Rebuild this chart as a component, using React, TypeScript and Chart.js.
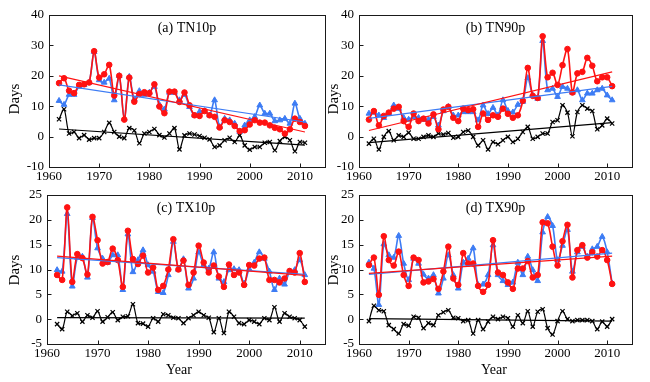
import React, { useEffect, useRef } from 'react';
import { Chart, registerables } from 'chart.js';

Chart.register(...registerables);

// ---------- data ----------
const years = [
  1962, 1963, 1964, 1965, 1966, 1967, 1968, 1969, 1970, 1971,
  1972, 1973, 1974, 1975, 1976, 1977, 1978, 1979, 1980, 1981,
  1982, 1983, 1984, 1985, 1986, 1987, 1988, 1989, 1990, 1991,
  1992, 1993, 1994, 1995, 1996, 1997, 1998, 1999, 2000, 2001,
  2002, 2003, 2004, 2005, 2006, 2007, 2008, 2009, 2010, 2011,
];
const trendYears = [1962, 2011];
const xTickMin = 1960;
const xTickMax = 2015;

// (a) TN10p
const tn10pRed = [
  17.6, 19.2, 15.1, 14.3, 17.0, 17.2, 17.8, 28.1, 19.4, 20.5,
  23.6, 13.5, 20.0, 5.6, 19.4, 11.5, 14.0, 14.6, 14.3, 17.2,
  9.9, 7.7, 14.8, 14.8, 11.4, 14.5, 10.3, 7.0, 6.8, 8.4,
  7.0, 6.5, 3.0, 5.4, 4.8, 3.5, 1.8, 2.1, 4.0, 5.4,
  4.6, 4.6, 3.7, 2.9, 2.4, 1.0, 2.4, 5.9, 4.8, 3.5,
];
const tn10pBlue = [
  11.8, 10.5, 13.8, 13.8, 16.5, 17.0, 17.8, 27.9, 18.6, 17.8,
  19.1, 12.0, 20.0, 5.9, 19.7, 12.3, 15.0, 13.8, 14.5, 16.4,
  10.5, 9.0, 14.5, 14.5, 12.0, 13.8, 9.8, 7.0, 8.2, 8.4,
  7.0, 12.0, 3.2, 5.9, 5.4, 4.3, 1.6, 3.7, 5.4, 6.5,
  10.3, 7.6, 7.6, 5.1, 5.4, 5.9, 4.3, 10.9, 5.9, 4.3,
];
const tn10pBlack = [
  5.7, 9.0, 1.0, 1.5, -0.5, 0.5, -1.0, -0.5, -0.5, 1.5,
  4.5, 1.5, 0.0, -0.5, 2.8, 2.0, -2.2, 1.0, 1.5, 2.5,
  0.5, -0.3, 1.0, 2.8, -4.2, 0.4, 1.0, 0.7, 0.2, -0.4,
  -0.9, -3.4, -2.9, -1.2, -0.4, -1.8, 0.4, -2.9, -4.3, -3.4,
  -3.4, -2.0, -1.8, -4.5, -1.5, -0.1, -1.2, -4.8, -1.8, -2.0,
];
const tn10pRedTrend = [20.0, 1.5];
const tn10pBlueTrend = [17.0, 4.8];
const tn10pBlackTrend = [2.5, -2.8];

// (b) TN90p
const tn90pRed = [
  5.6, 8.4, 3.7, 6.8, 7.9, 9.2, 9.8, 5.1, 3.2, 7.6,
  5.1, 5.9, 4.3, 7.3, 2.4, 8.9, 9.8, 6.2, 5.1, 9.2,
  8.7, 9.0, 3.2, 7.6, 5.5, 7.0, 6.5, 9.2, 7.5, 6.2,
  7.0, 11.8, 22.6, 13.4, 12.7, 33.0, 19.5, 21.0, 17.0, 23.5,
  28.8, 14.5, 20.8, 21.3, 25.9, 23.3, 18.2, 19.5, 19.5, 16.6,
];
const tn90pBlue = [
  7.6, 7.9, 7.0, 6.2, 7.6, 10.3, 9.2, 6.2, 5.6, 6.5,
  6.2, 5.6, 5.6, 6.5, 3.7, 8.4, 9.8, 7.0, 7.0, 8.1,
  8.1, 8.1, 5.4, 10.3, 7.5, 9.5, 7.0, 12.0, 8.5, 8.0,
  10.5, 11.5, 19.3, 13.6, 12.5, 31.5, 15.3, 15.8, 13.1, 16.4,
  15.8, 14.5, 15.3, 12.0, 14.2, 14.2, 15.3, 15.8, 13.6, 12.0,
];
const tn90pBlack = [
  -2.3, -0.7, -4.2, -0.1, 1.8, -1.2, 0.4, -0.1, 1.3, -0.7,
  -0.7, -0.1, 0.4, -0.1, 1.0, 0.7, 1.2, -0.4, -0.1, 1.5,
  2.0, -0.1, -2.9, -1.2, -4.2, -1.8, -2.5, -1.2, -0.1, -1.8,
  -0.7, 1.5, 3.2, -0.7, -0.1, 1.0, 1.0, 4.8, 5.4, 10.3,
  7.9, 0.1, 8.1, 10.3, 9.2, 8.4, 2.4, 3.7, 5.9, 4.3,
];
const tn90pRedTrend = [2.0, 21.3];
const tn90pBlueTrend = [6.0, 16.5];
const tn90pBlackTrend = [-2.0, 4.6];

// (c) TX10p
const tx10pRed = [
  8.9, 7.9, 22.5, 7.5, 13.1, 12.3, 9.0, 20.6, 15.9, 11.2,
  11.5, 14.2, 11.9, 6.5, 17.8, 12.1, 11.1, 12.8, 9.4, 10.4,
  5.9, 6.7, 10.0, 16.1, 10.0, 11.8, 6.9, 9.4, 14.8, 11.4,
  9.4, 10.8, 8.6, 6.5, 11.0, 8.9, 9.4, 6.9, 10.9, 10.8,
  12.2, 12.4, 7.9, 7.9, 7.4, 8.2, 9.7, 9.4, 13.3, 7.5,
];
const tx10pBlue = [
  9.9, 9.6, 21.2, 6.6, 12.4, 12.6, 8.4, 20.4, 14.3, 12.2,
  11.4, 12.9, 12.9, 5.9, 17.1, 9.5, 11.9, 13.9, 10.9, 9.6,
  5.5, 5.3, 8.9, 15.6, 10.0, 12.1, 6.2, 8.2, 13.5, 10.9,
  10.2, 13.5, 8.2, 7.5, 9.9, 10.1, 9.9, 7.2, 10.1, 11.4,
  13.5, 12.2, 9.6, 5.9, 8.2, 7.0, 9.6, 9.9, 11.9, 8.9,
];
const tx10pBlack = [
  -1.0, -2.0, 1.5, 0.7, 1.2, -0.5, 0.8, 0.3, 1.6, -0.5,
  0.4, 1.4, -0.2, 0.5, 0.6, 3.0, -0.8, -0.9, -1.5, 0.2,
  -0.5, 1.0, 0.8, 0.3, 0.2, -0.8, 0.2, 0.8, 1.5, 0.8,
  0.3, -2.6, 0.2, -2.8, 1.5, 0.5, -0.8, -1.0, -0.2, -0.5,
  -1.0, 0.2, -0.2, 2.4, -0.5, 1.2, 0.5, 0.2, -0.2, -1.5,
];
const tx10pRedTrend = [12.7, 8.8];
const tx10pBlueTrend = [12.4, 9.0];
const tx10pBlackTrend = [0.3, 0.2];

// (d) TX90p
const tx90pRed = [
  10.9, 12.4, 4.9, 16.7, 11.9, 10.8, 13.6, 8.9, 6.7, 12.4,
  11.9, 7.4, 7.6, 8.1, 6.1, 9.6, 14.6, 8.2, 6.9, 13.3,
  11.2, 11.2, 6.7, 5.5, 6.9, 15.9, 9.4, 8.9, 7.4, 6.1,
  10.2, 10.2, 11.7, 8.4, 8.9, 19.5, 19.3, 14.6, 10.8, 15.7,
  19.0, 8.4, 13.9, 14.9, 12.4, 13.5, 12.6, 13.9, 11.9, 7.1,
];
const tx90pBlue = [
  11.4, 10.2, 2.9, 15.1, 12.9, 12.4, 16.8, 11.2, 7.9, 12.2,
  11.2, 9.0, 8.2, 8.9, 5.2, 8.2, 12.9, 8.9, 6.2, 11.4,
  12.2, 14.3, 6.9, 7.0, 8.9, 14.9, 8.9, 7.7, 6.9, 7.4,
  11.4, 8.9, 12.6, 9.9, 7.7, 17.5, 20.6, 18.8, 11.9, 14.8,
  18.0, 9.6, 13.5, 14.6, 12.6, 14.1, 14.6, 16.6, 13.5, 7.2,
];
const tx90pBlack = [
  -0.4, 2.7, 1.8, 1.6, -1.2, -2.0, -2.9, -1.0, -1.3, 0.5,
  0.3, -1.8, -0.8, -1.2, 0.8, 1.4, 1.8, 0.3, 0.2, -0.4,
  -0.2, -2.9, -0.2, -2.0, -0.5, 0.5, 0.0, 0.5, 0.2, -1.5,
  0.8, -0.8, 1.6, -1.5, 1.5, 2.0, -1.8, -3.1, -0.4, 1.6,
  0.0, -0.4, -0.2, -0.2, -0.2, -0.4, -2.0, -0.5, -1.5, 0.0,
];
const tx90pRedTrend = [9.2, 12.7];
const tx90pBlueTrend = [9.0, 13.3];
const tx90pBlackTrend = [0.1, -0.4];

// ---------- style ----------
const RED = '#ff1212';
const BLUE = '#3d7cf4';
const BLACK = '#000000';
const SERIF = '"Liberation Serif", "Times New Roman", serif';
const W = 650;
const H = 382;
const X_AXIS_H = 20;

type Panel = {
  label: string;
  red: number[];
  blue: number[];
  black: number[];
  redTrend: number[];
  blueTrend: number[];
  blackTrend: number[];
  yMin: number;
  yMax: number;
  yStep: number;
  area: { l: number; t: number; r: number; b: number };
  days: { x: number; y: number };
  year: { x: number; y: number } | null;
};

const panels: Panel[] = [
  {
    label: '(a) TN10p', red: tn10pRed, blue: tn10pBlue, black: tn10pBlack,
    redTrend: tn10pRedTrend, blueTrend: tn10pBlueTrend, blackTrend: tn10pBlackTrend,
    yMin: -10, yMax: 40, yStep: 10,
    area: { l: 49, t: 15, r: 325, b: 167 },
    days: { x: 15, y: 99 }, year: null,
  },
  {
    label: '(b) TN90p', red: tn90pRed, blue: tn90pBlue, black: tn90pBlack,
    redTrend: tn90pRedTrend, blueTrend: tn90pBlueTrend, blackTrend: tn90pBlackTrend,
    yMin: -10, yMax: 40, yStep: 10,
    area: { l: 359, t: 15, r: 632, b: 167 },
    days: { x: 334, y: 99 }, year: null,
  },
  {
    label: '(c) TX10p', red: tx10pRed, blue: tx10pBlue, black: tx10pBlack,
    redTrend: tx10pRedTrend, blueTrend: tx10pBlueTrend, blackTrend: tx10pBlackTrend,
    yMin: -5, yMax: 25, yStep: 5,
    area: { l: 47, t: 195, r: 325, b: 344 },
    days: { x: 15, y: 270 }, year: { x: 179, y: 370 },
  },
  {
    label: '(d) TX90p', red: tx90pRed, blue: tx90pBlue, black: tx90pBlack,
    redTrend: tx90pRedTrend, blueTrend: tx90pBlueTrend, blackTrend: tx90pBlackTrend,
    yMin: -5, yMax: 25, yStep: 5,
    area: { l: 359, t: 195, r: 632, b: 344 },
    days: { x: 334, y: 270 }, year: { x: 494, y: 370 },
  },
];

const framePlugin = {
  id: 'frame',
  afterDraw(chart: any, _args: any, opts: any) {
    const { ctx, chartArea, scales } = chart;
    const { left, top, right, bottom } = chartArea;
    ctx.save();
    ctx.strokeStyle = '#1a1a1a';
    ctx.lineWidth = 1;
    const l = Math.round(left) + 0.5;
    const t = Math.round(top) + 0.5;
    const r = Math.round(right) + 0.5;
    const b = Math.round(bottom) + 0.5;
    ctx.strokeRect(l, t, r - l, b - t);
    ctx.beginPath();
    scales.x.ticks.forEach((tk: any) => {
      const px = Math.round(scales.x.getPixelForValue(tk.value)) + 0.5;
      ctx.moveTo(px, b);
      ctx.lineTo(px, b - 4);
    });
    scales.y.ticks.forEach((tk: any) => {
      const py = Math.round(scales.y.getPixelForValue(tk.value)) + 0.5;
      ctx.moveTo(l, py);
      ctx.lineTo(l + 4, py);
    });
    ctx.stroke();

    ctx.fillStyle = '#000';
    ctx.textAlign = 'center';
    ctx.textBaseline = 'middle';
    ctx.font = `14px ${SERIF}`;
    ctx.fillText(opts.label, (left + right) / 2, top + 13);

    ctx.save();
    ctx.translate(opts.days.x, opts.days.y);
    ctx.rotate(-Math.PI / 2);
    ctx.font = `15px ${SERIF}`;
    ctx.fillText('Days', 0, 0);
    ctx.restore();

    if (opts.year) {
      ctx.font = `14px ${SERIF}`;
      ctx.fillText('Year', opts.year.x, opts.year.y);
    }
    ctx.restore();
  },
};

function pts(xs: number[], ys: number[]) {
  return xs.map((x, i) => ({ x, y: ys[i] }));
}

function buildConfig(p: Panel): any {
  const padLeft = 0;
  const yWidth = p.area.l - padLeft;
  const trend = (data: number[], color: string) => ({
    data: pts(trendYears, data),
    borderColor: color,
    borderWidth: 1.2,
    pointRadius: 0,
    tension: 0,
    fill: false,
  });
  return {
    type: 'line',
    data: {
      datasets: [
        trend(p.redTrend, RED),
        trend(p.blueTrend, BLUE),
        trend(p.blackTrend, BLACK),
        {
          data: pts(years, p.red),
          borderColor: RED,
          backgroundColor: RED,
          borderWidth: 1.6,
          pointStyle: 'circle',
          pointRadius: 2.8,
          pointBorderWidth: 1,
          tension: 0.3,
          fill: false,
        },
        {
          data: pts(years, p.blue),
          borderColor: BLUE,
          backgroundColor: BLUE,
          borderWidth: 1.6,
          pointStyle: 'triangle',
          pointRadius: 3.3,
          pointBorderWidth: 1,
          tension: 0.3,
          fill: false,
        },
        {
          data: pts(years, p.black),
          borderColor: BLACK,
          backgroundColor: BLACK,
          borderWidth: 1.2,
          pointStyle: 'crossRot',
          pointRadius: 3,
          pointBorderWidth: 1.2,
          tension: 0.3,
          fill: false,
        },
      ],
    },
    options: {
      responsive: false,
      animation: false,
      devicePixelRatio: 1,
      events: [],
      layout: {
        padding: {
          left: padLeft,
          top: p.area.t,
          right: W - p.area.r,
          bottom: H - p.area.b - X_AXIS_H,
        },
      },
      plugins: {
        legend: { display: false },
        tooltip: { enabled: false },
        title: { display: false },
        frame: { label: p.label, days: p.days, year: p.year },
      },
      scales: {
        x: {
          type: 'linear',
          min: xTickMin,
          max: xTickMax,
          afterFit: (s: any) => { s.height = X_AXIS_H; },
          grid: { display: false, drawTicks: false },
          border: { display: false },
          ticks: {
            stepSize: 10,
            includeBounds: false,
            autoSkip: false,
            maxRotation: 0,
            padding: 2,
            color: '#000',
            font: { family: SERIF, size: 13, lineHeight: 1.2 },
            callback: (v: any) => String(v),
          },
        },
        y: {
          type: 'linear',
          min: p.yMin,
          max: p.yMax,
          afterFit: (s: any) => { s.width = yWidth; },
          grid: { display: false, drawTicks: false },
          border: { display: false },
          ticks: {
            stepSize: p.yStep,
            padding: 5,
            color: '#000',
            font: { family: SERIF, size: 13 },
            callback: (v: any) => String(v),
          },
        },
      },
    },
    plugins: [framePlugin],
  };
}

function PanelChart({ spec }: { spec: Panel }) {
  const ref = useRef<HTMLCanvasElement | null>(null);
  useEffect(() => {
    if (!ref.current) return;
    const chart = new Chart(ref.current, buildConfig(spec));
    return () => chart.destroy();
  }, [spec]);
  return (
    <canvas
      ref={ref}
      width={W}
      height={H}
      style={{ position: 'absolute', left: 0, top: 0, width: W, height: H }}
    />
  );
}

export default function App() {
  return (
    <div style={{ position: 'absolute', left: 0, top: 0, width: W, height: H, background: '#fff' }}>
      {panels.map((p) => (
        <PanelChart key={p.label} spec={p} />
      ))}
    </div>
  );
}
